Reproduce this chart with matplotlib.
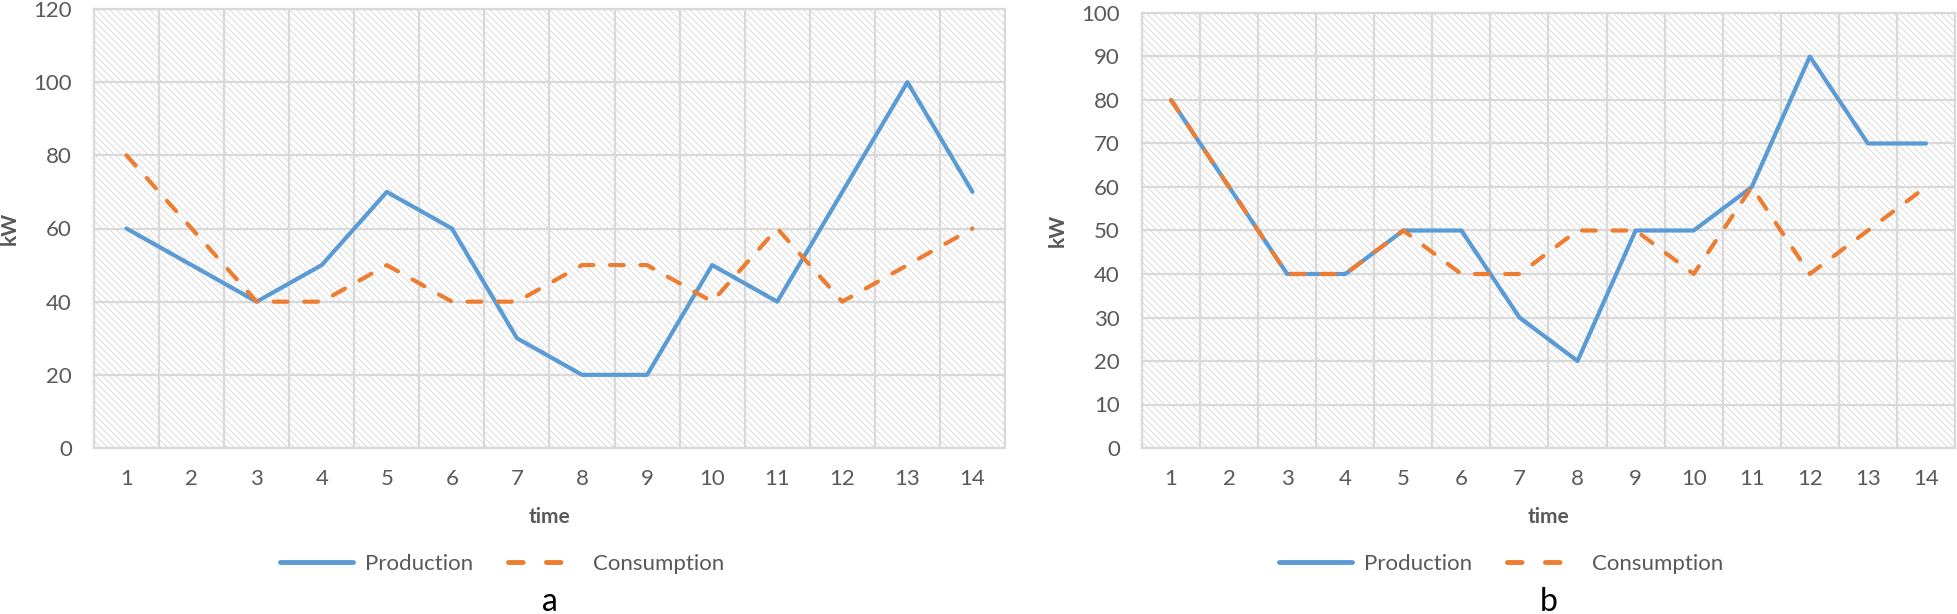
import matplotlib
matplotlib.use("Agg")
import matplotlib.pyplot as plt
from matplotlib.patches import Rectangle
from matplotlib.lines import Line2D

plt.rcParams['font.family'] = ['Lato', 'DejaVu Sans']
plt.rcParams['hatch.linewidth'] = 0.5
plt.rcParams['hatch.color'] = '#cfcfcf'

# data
time = list(range(1, 15))
production_a = [60, 50, 40, 50, 70, 60, 30, 20, 20, 50, 40, 70, 100, 70]
consumption_a = [80, 60, 40, 40, 50, 40, 40, 50, 50, 40, 60, 40, 50, 60]
production_b = [80, 60, 40, 40, 50, 50, 30, 20, 50, 50, 60, 90, 70, 70]
consumption_b = [80, 60, 40, 40, 50, 40, 40, 50, 50, 40, 60, 40, 50, 60]
yticks_a = [0, 20, 40, 60, 80, 100, 120]
yticks_b = [0, 10, 20, 30, 40, 50, 60, 70, 80, 90, 100]

blue = '#5b9bd5'
orange = '#ed7d31'
grey_text = '#595959'
grid_col = '#d9d9d9'
dash = (0, (3.3, 4.0))

W, H = 1958, 614
fig = plt.figure(figsize=(W / 100, H / 100), dpi=100)


def panel(rect, prod, cons, yticks, letter, legend_x):
    ax = fig.add_axes(rect)
    ax.set_xlim(0.5, 14.5)
    ax.set_ylim(yticks[0], yticks[-1])
    # patterned plot area
    ax.add_patch(Rectangle((0, 0), 1, 1, transform=ax.transAxes, facecolor='white',
                           edgecolor='#cfcfcf', hatch='\\\\\\\\\\', linewidth=0, zorder=0))
    for y in yticks:
        ax.axhline(y, color=grid_col, lw=1.6, zorder=1)
    for x in [t + 0.5 for t in range(0, 15)]:
        ax.axvline(x, color=grid_col, lw=1.6, zorder=1)
    ax.plot(time, prod, color=blue, lw=3, solid_capstyle='round', zorder=3)
    ax.plot(time, cons, color=orange, lw=3, linestyle=dash,
            dash_capstyle='round', zorder=4)
    ax.set_xticks(time)
    ax.set_yticks(yticks)
    ax.tick_params(length=0, labelsize=16, colors=grey_text)
    ax.tick_params(axis='x', pad=15)
    ax.tick_params(axis='y', pad=16)
    for s in ax.spines.values():
        s.set_color(grid_col)
        s.set_linewidth(1.6)
    ax.set_xlabel('time', fontsize=15, fontweight='bold', color=grey_text, labelpad=13)
    ax.set_ylabel('kW', fontsize=15, fontweight='bold', color=grey_text, labelpad=10)
    handles = [Line2D([], [], color=blue, lw=3.5, solid_capstyle='round'),
               Line2D([], [], color=orange, lw=3.5, linestyle=(0, (3.0, 4.8)),
                      dash_capstyle='round')]
    fig.legend(handles, ['Production', 'Consumption'], loc='center',
               bbox_to_anchor=(legend_x / W, 1 - 564 / H), ncol=2, frameon=False,
               fontsize=16, labelcolor=grey_text, handlelength=3.3,
               columnspacing=1.6, handletextpad=0.5)
    cx = rect[0] + rect[2] / 2
    fig.text(cx, 1 - 602 / H, letter, ha='center', va='center', fontsize=23, color='black')
    return ax


panel([94 / W, 166 / H, 911 / W, 439 / H], production_a, consumption_a, yticks_a, 'a', 502)
panel([1142 / W, 166 / H, 813 / W, 435 / H], production_b, consumption_b, yticks_b, 'b', 1501)

fig.savefig('out.png', dpi=100)
